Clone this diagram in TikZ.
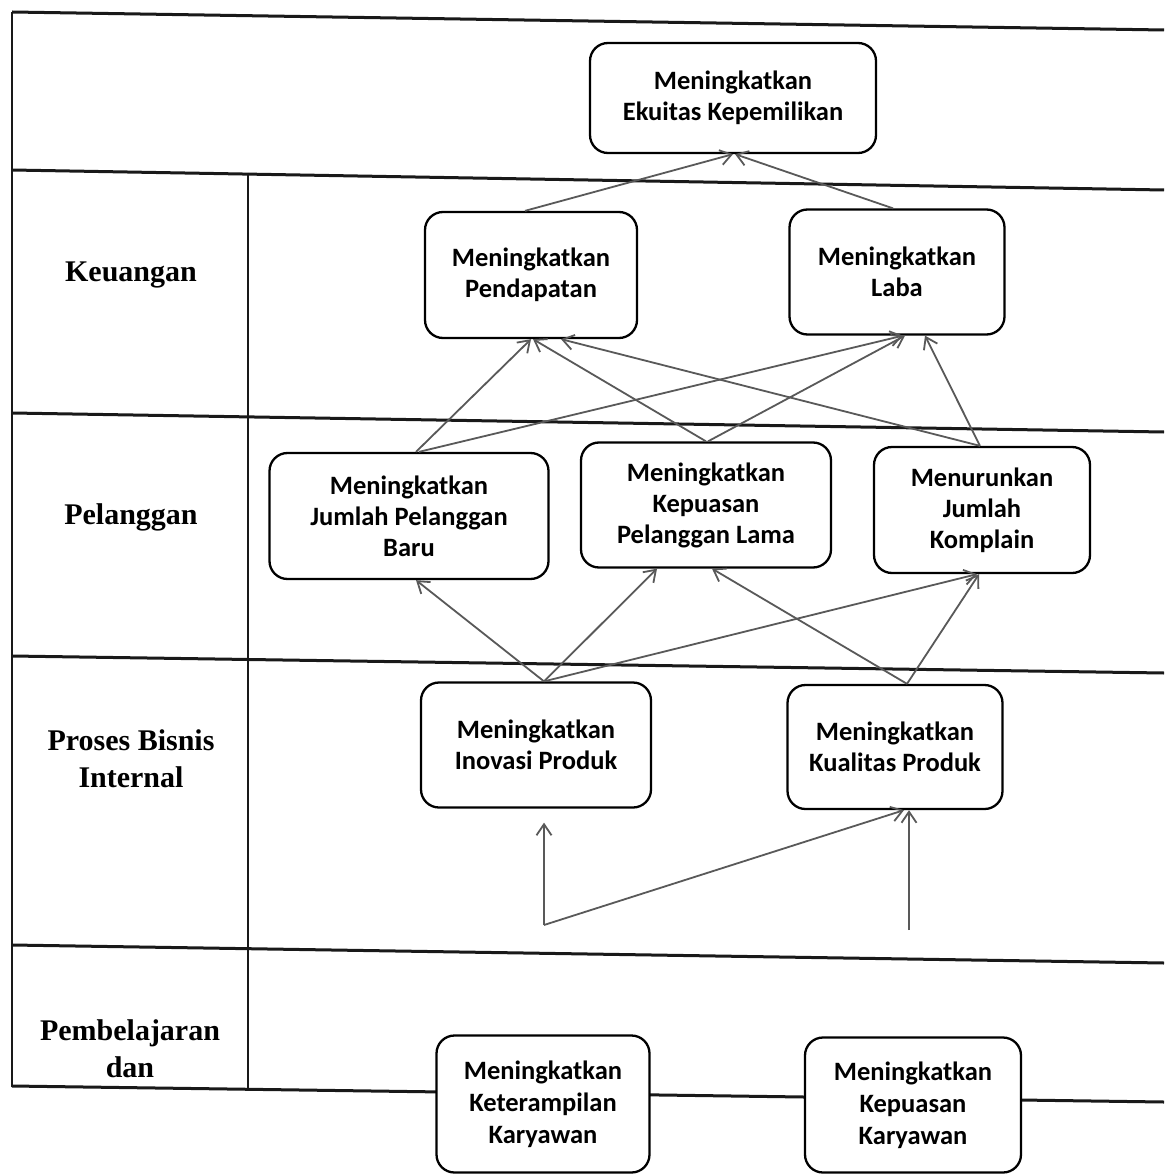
\documentclass[tikz,border=0pt]{standalone}
\usepackage{fontspec}
\setmainfont{Liberation Serif}
\newfontfamily\boxfont{Carlito}
\usetikzlibrary{arrows.meta,calc}
\begin{document}
\begin{tikzpicture}[x=1pt,y=-1pt,
  grid/.style={line width=3pt,draw=black!90},
  goal/.style={draw=black,line width=2.3pt,rounded corners=18pt,fill=white,align=center,inner sep=0pt,
    font=\boxfont\bfseries\fontsize{26.5}{31}\selectfont},
  lane/.style={align=center,font=\bfseries\fontsize{30}{37}\selectfont},
  link/.style={draw=black!65,line width=1.8pt,-{Straight Barb[length=11pt,width=15pt,line width=1.8pt]}}]
\fill[white] (0,0) rectangle (1164,1174);
\useasboundingbox (0,0) rectangle (1164,1174);
% table
\draw[grid] (12,12) -- (1164,30);
\draw[grid] (12,170) -- (1164,190);
\draw[grid] (12,413) -- (1164,432);
\draw[grid] (12,656) -- (1164,673);
\draw[grid] (12,945) -- (1164,963);
\draw[grid] (12,1086) -- (1164,1102);
\draw[grid,line width=2.2pt] (12,12) -- (12,1087);
\draw[grid,line width=2.2pt] (248,173) -- (248,1088);
% lane labels
\node[lane] (lk) at (131,275) {Keuangan};
\node[lane] (lp) at (131,517) {Pelanggan};
\node[lane] (lb) at (131,759) {Proses Bisnis\\Internal};
\node[lane] (ll) at (130,1049) {Pembelajaran\\dan};
% goals
\node[goal,minimum width=286pt,minimum height=110pt] (eku) at (733,98) {Meningkatkan\\Ekuitas Kepemilikan};
\node[goal,minimum width=212pt,minimum height=126pt] (pen) at (531,275) {Meningkatkan\\Pendapatan};
\node[goal,minimum width=215pt,minimum height=125pt] (lab) at (897,272) {Meningkatkan\\Laba};
\node[goal,minimum width=279pt,minimum height=126pt] (bar) at (409,516) {Meningkatkan\\Jumlah Pelanggan\\Baru};
\node[goal,minimum width=250pt,minimum height=125pt] (kep) at (706,505) {Meningkatkan\\Kepuasan\\Pelanggan Lama};
\node[goal,minimum width=216pt,minimum height=126pt] (kom) at (982,510) {Menurunkan\\Jumlah\\Komplain};
\node[goal,minimum width=230pt,minimum height=125pt] (ino) at (536,745) {Meningkatkan\\Inovasi Produk};
\node[goal,minimum width=215pt,minimum height=124pt] (kua) at (895,747) {Meningkatkan\\Kualitas Produk};
\node[goal,minimum width=213pt,minimum height=137pt,font=\boxfont\bfseries\fontsize{26.5}{32}\selectfont] (ket) at (543,1104) {Meningkatkan\\Keterampilan\\Karyawan};
\node[goal,minimum width=216pt,minimum height=135pt,font=\boxfont\bfseries\fontsize{26.5}{32}\selectfont] (kry) at (913,1105) {Meningkatkan\\Kepuasan\\Karyawan};
% free ends
\coordinate (p1) at (544,925);
\coordinate (p2) at (909,930);
% connectors
\draw[link] ([xshift=-6pt]pen.north) -- (eku.south);
\draw[link] ([xshift=-4pt]lab.north) -- ([xshift=2pt]eku.south);
\draw[link] ([xshift=7pt]bar.north) -- (pen.south);
\draw[link] ([xshift=10pt]bar.north) -- ([xshift=6pt]lab.south);
\draw[link] ([xshift=0pt]kep.north) -- ([xshift=2pt]pen.south);
\draw[link] ([xshift=2pt]kep.north) -- ([xshift=8pt]lab.south);
\draw[link] ([xshift=-2pt]kom.north) -- ([xshift=30pt]pen.south);
\draw[link] ([xshift=-2pt]kom.north) -- ([xshift=28pt]lab.south);
\draw[link] ([xshift=8pt]ino.north) -- ([xshift=7pt]bar.south);
\draw[link] ([xshift=8pt]ino.north) -- ([xshift=-49pt]kep.south);
\draw[link] ([xshift=8pt]ino.north) -- ([xshift=-5pt]kom.south);
\draw[link] ([xshift=12pt]kua.north) -- ([xshift=6pt]kep.south);
\draw[link] ([xshift=12pt]kua.north) -- ([xshift=-3pt]kom.south);
\draw[link] (p1) -- ([xshift=8pt,yshift=-14pt]ino.south);
\draw[link] (p1) -- ([xshift=9pt]kua.south);
\draw[link] (p2) -- ([xshift=14pt]kua.south);
\end{tikzpicture}
\end{document}
